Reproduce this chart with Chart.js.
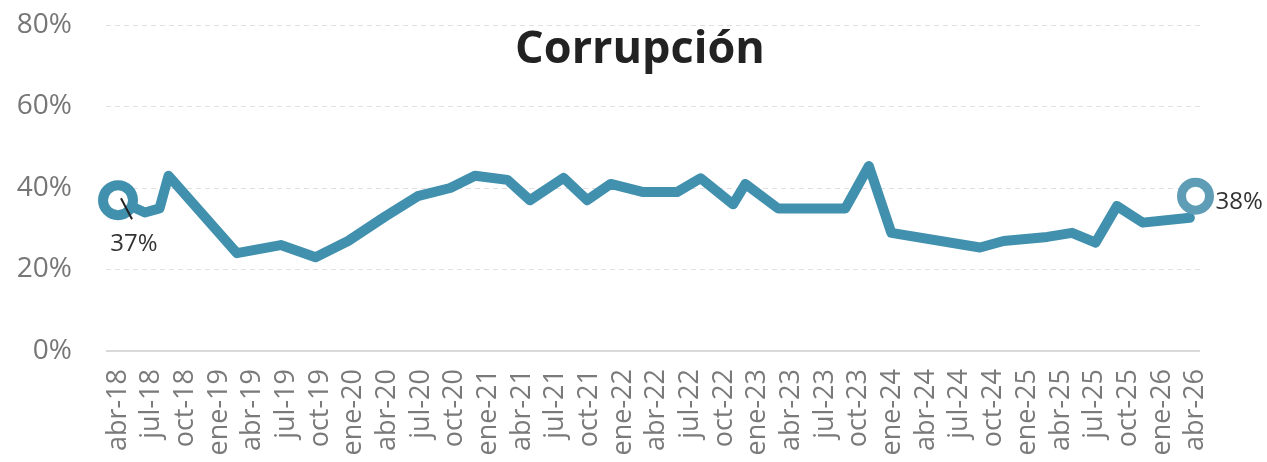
<!DOCTYPE html>
<html lang="es">
<head>
<meta charset="utf-8">
<title>Corrupción</title>
<script src="https://cdn.jsdelivr.net/npm/chart.js@4"></script>
<style>
	html, body { margin: 0; padding: 0; background: #fff; }
	#wrap { width: 1267px; height: 462px; }
</style>
</head>
<body>
<div id="wrap"><canvas id="corrupcionChart"></canvas></div>
<script>
// Datos (meses contados desde abr-18)
const titulo = 'Corrupción';
const etiquetasX = ['abr-18', 'jul-18', 'oct-18', 'ene-19', 'abr-19', 'jul-19', 'oct-19', 'ene-20', 'abr-20', 'jul-20', 'oct-20',
	'ene-21', 'abr-21', 'jul-21', 'oct-21', 'ene-22', 'abr-22', 'jul-22', 'oct-22', 'ene-23', 'abr-23', 'jul-23', 'oct-23',
	'ene-24', 'abr-24', 'jul-24', 'oct-24', 'ene-25', 'abr-25', 'jul-25', 'oct-25', 'ene-26', 'abr-26'];
const meses = [0, 2.4, 3.7, 4.5, 10.6, 14.5, 17.6, 20.5, 23.8, 26.7, 29.6, 31.8, 34.7, 36.7, 39.7, 41.8, 43.9, 46.8, 49.8,
	51.9, 54.8, 55.9, 58.8, 64.8, 66.9, 68.9, 76.8, 78.9, 82.8, 85, 87.1, 89, 91.3, 95.5];
const valores = [37, 34, 35, 43, 24, 26, 23, 27, 33, 38, 40, 43, 42, 37, 42.5, 37, 41, 39, 39,
	42.4, 36, 41, 35, 35, 45.4, 29, 25.4, 27, 28, 29, 26.6, 35.6, 31.5, 32.7];
const ultimoMes = 96;
const ultimoValor = 38;

const colorLinea = '#4190ae';
const colorUltimo = '#5f9db6';

const etiquetasDatos = {
	id: 'etiquetasDatos',
	afterDatasetsDraw: (chart) => {
		const ctx = chart.ctx;
		const primero = chart.getDatasetMeta(1).data[0].getCenterPoint();
		const ultimo = chart.getDatasetMeta(0).data[0].getCenterPoint();
		ctx.save();
		// línea guía del primer valor
		ctx.strokeStyle = '#222';
		ctx.lineWidth = 2;
		ctx.beginPath();
		ctx.moveTo(primero.x + 3, primero.y - 2);
		ctx.lineTo(primero.x + 14, primero.y + 19);
		ctx.stroke();
		ctx.font = '24px "Open Sans"';
		ctx.fillStyle = '#333';
		ctx.textBaseline = 'middle';
		ctx.textAlign = 'center';
		ctx.fillText(valores[0] + '%', primero.x + 16, primero.y + 44);
		ctx.textAlign = 'left';
		ctx.fillText(ultimoValor + '%', ultimo.x + 20, ultimo.y + 6);
		// título sobre el área del gráfico
		ctx.font = 'bold 45px "Open Sans"';
		ctx.fillStyle = '#222';
		ctx.textAlign = 'center';
		ctx.textBaseline = 'alphabetic';
		ctx.fillText(titulo, 640, 63);
		ctx.restore();
	}
};

const ctx = document.getElementById('corrupcionChart').getContext('2d');
new Chart(ctx, {
	type: 'line',
	data: {
		datasets: [{
			data: [{ x: ultimoMes, y: ultimoValor }],
			showLine: false,
			pointRadius: 14,
			pointBorderWidth: 9,
			pointBorderColor: colorUltimo,
			pointBackgroundColor: '#fff',
		}, {
			data: meses.map((m, i) => ({ x: m, y: valores[i] })),
			borderColor: colorLinea,
			borderWidth: 10,
			borderJoinStyle: 'round',
			borderCapStyle: 'round',
			tension: 0,
			pointRadius: valores.map((_, i) => i === 0 ? 15 : 0),
			pointBorderWidth: 10,
			pointBorderColor: colorLinea,
			pointBackgroundColor: '#fff',
		}]
	},
	options: {
		responsive: true,
		maintainAspectRatio: false,
		animation: false,
		clip: false,
		layout: { padding: { top: 23, right: 67, left: 0, bottom: 0 } },
		scales: {
			x: {
				type: 'linear',
				min: -1.07,
				max: 96.4,
				afterBuildTicks: (axis) => {
					axis.ticks = etiquetasX.map((_, i) => ({ value: i * 3 }));
				},
				afterFit: (axis) => { axis.height = 111; axis.paddingLeft = 0; axis.paddingRight = 0; },
				grid: { display: false },
				border: { display: false },
				ticks: {
					autoSkip: false,
					minRotation: 90,
					maxRotation: 90,
					padding: 10,
					color: '#7a7a7a',
					font: { family: 'Open Sans', size: 27 },
					callback: (v) => etiquetasX[Math.round(v / 3)]
				}
			},
			y: {
				min: 0,
				max: 80,
				afterFit: (axis) => { axis.width = 106; axis.paddingTop = 0; axis.paddingBottom = 0; },
				grid: {
					drawTicks: false,
					color: (c) => c.tick.value === 0 ? '#d9d9d9' : '#e0e0e0',
					lineWidth: (c) => c.tick.value === 0 ? 2 : 1,
				},
				border: {
					display: false,
					dash: (c) => c.tick.value === 0 ? [] : [5, 4],
				},
				ticks: {
					stepSize: 20,
					padding: 34,
					color: '#767676',
					font: { family: 'Open Sans', size: 28 },
					callback: (v) => v + '%'
				}
			}
		},
		plugins: {
			legend: { display: false },
			tooltip: { enabled: false },
			title: { display: false },
		}
	},
	plugins: [etiquetasDatos]
});
</script>
</body>
</html>
